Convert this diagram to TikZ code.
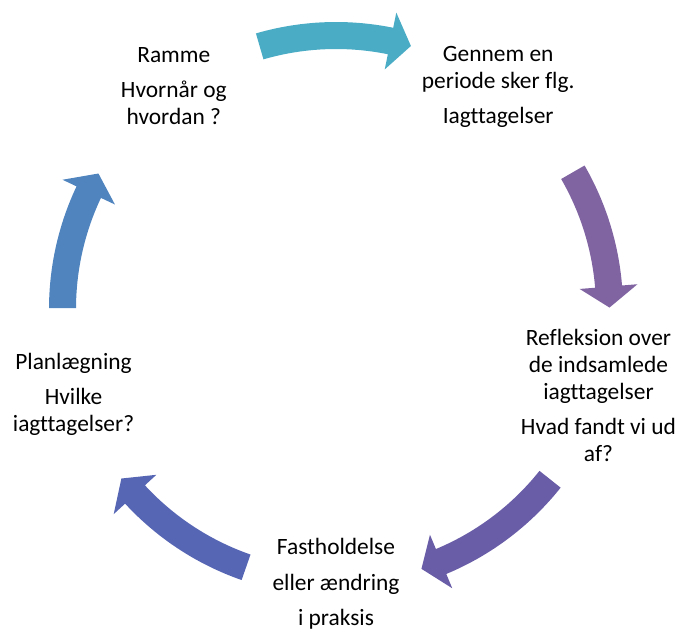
\documentclass[tikz,border=0pt]{standalone}
\usepackage{fontspec}
\setmainfont{Carlito}[Ligatures=NoCommon]
\definecolor{arrA}{HTML}{4BACC6}
\definecolor{arrB}{HTML}{8064A2}
\definecolor{arrC}{HTML}{6A5DA8}
\definecolor{arrD}{HTML}{5766B4}
\definecolor{arrE}{HTML}{4F84BF}
\newcommand\cycarrow[4]{%
  \fill[#1, shift={(O)}] (#2:260) -- plot[domain=#2:#3, samples=40, variable=\t] (\t:287)
    -- (#3:302.5) -- (#4:273.5) -- (#3:244.5)
    -- plot[domain=#3:#2, samples=40, variable=\t] (\t:260) -- cycle;}
\begin{document}
\begin{tikzpicture}[x=1pt,y=-1pt,
  lbl/.style={align=center, font=\fontsize{23.4}{27}\selectfont, inner sep=0pt, text=black}]
\useasboundingbox (0,0) rectangle (680,633);
\coordinate (O) at (336,309);
\cycarrow{arrA}{253.8}{281.5}{285.9}
\cycarrow{arrB}{330}{355.3}{359.7}
\cycarrow{arrC}{38.5}{67.4}{71.8}
\cycarrow{arrD}{109.2}{137.3}{141.7}
\cycarrow{arrE}{180.2}{205.3}{209.7}
\node[lbl] (n1) at (173.8,86.5) {Ramme\\[8pt]Hvornår og\\hvordan ?};
\node[lbl] (n2) at (498.2,86.5) {Gennem en\\periode sker flg.\\[8pt]Iagttagelser};
\node[lbl] (n3) at (598.5,395) {Refleksion over\\de indsamlede\\iagttagelser\\[8pt]Hvad fandt vi ud\\af?};
\node[lbl] (n4) at (336,584) {Fastholdelse\\[8.5pt]eller ændring\\[8.5pt]i praksis};
\node[lbl] (n5) at (73.5,394) {Planlægning\\[8pt]Hvilke\\iagttagelser?};
\end{tikzpicture}
\end{document}
